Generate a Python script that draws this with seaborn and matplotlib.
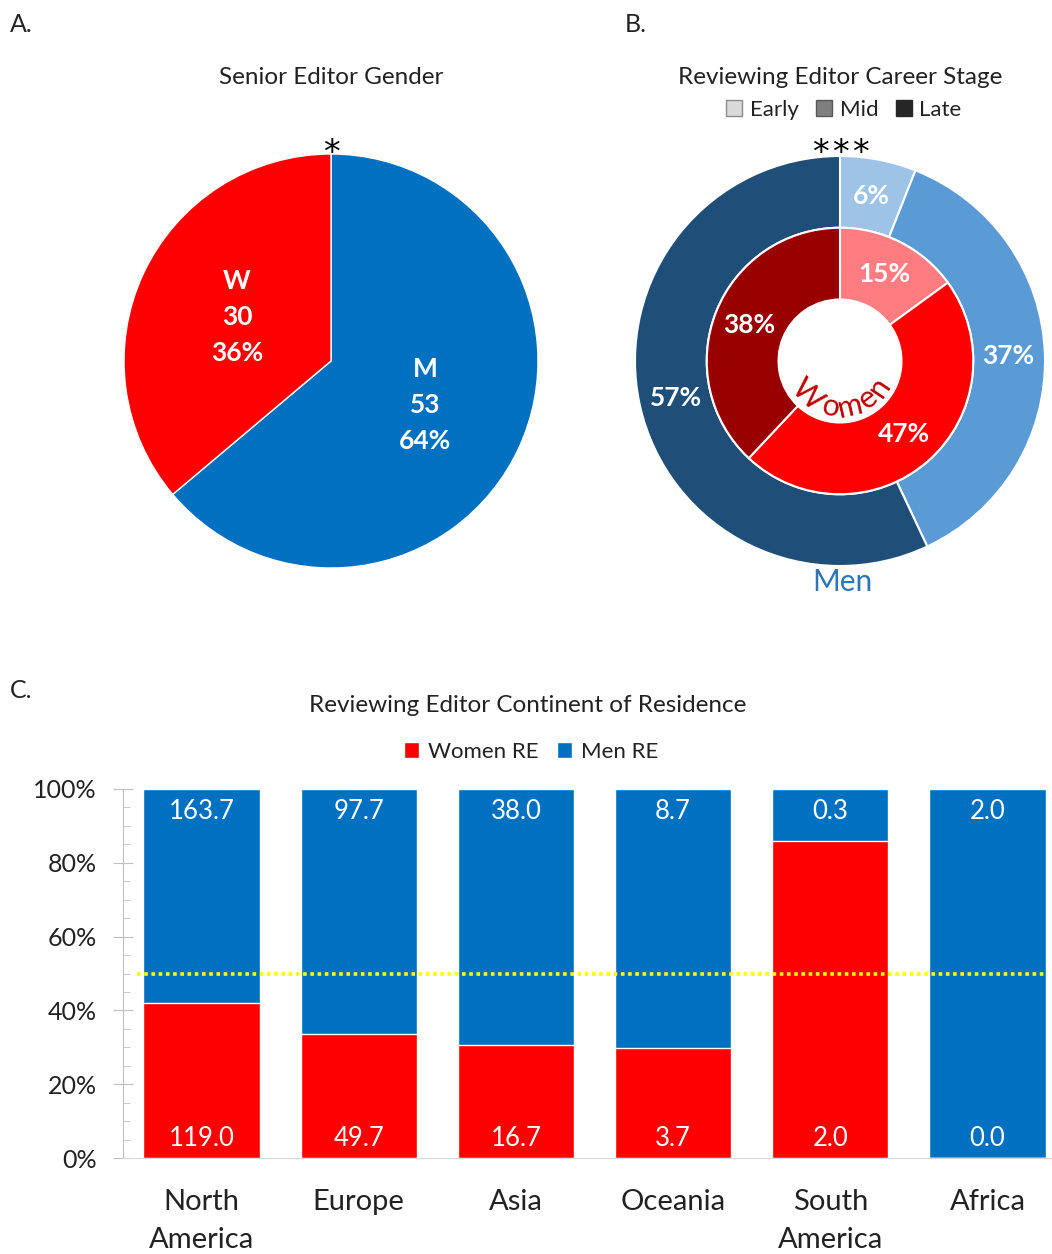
import numpy as np
import pandas as pd
import matplotlib
matplotlib.use('Agg')
import matplotlib.pyplot as plt
from matplotlib.patches import Patch
from matplotlib.ticker import MultipleLocator, PercentFormatter
import seaborn as sns

# A. senior editors
se_labels = ['M', 'W']
se_counts = [53, 30]

# B. reviewing editor career stage (percent of each gender)
stages = ['Early', 'Mid', 'Late']
men_stage_pct = [6, 37, 57]
women_stage_pct = [15, 47, 38]

# C. reviewing editor continent of residence
continents = ['North\nAmerica', 'Europe', 'Asia', 'Oceania', 'South\nAmerica', 'Africa']
women_re = [119.0, 49.7, 16.7, 3.7, 2.0, 0.0]
men_re = [163.7, 97.7, 38.0, 8.7, 0.33, 2.0]

BLUE = '#0070C0'
RED = '#FF0000'
men_shades = ['#9DC3E6', '#5B9BD5', '#1F4E79']
women_shades = ['#FF7C80', '#FF0000', '#990000']
stage_grays = ['#D9D9D9', '#7F7F7F', '#262626']
stage_edges = ['#8C8C8C', '#595959', '#262626']
TXT = '#222222'

sns.set_style('white')
plt.rcParams['font.family'] = ['Lato', 'DejaVu Sans']

W, H = 1052, 1254
fig = plt.figure(figsize=(W / 100, H / 100), dpi=100)


def pie_axes(cx, cy, r, lim=1.3):
    s = r * lim
    ax = fig.add_axes([(cx - s) / W, (H - cy - s) / H, 2 * s / W, 2 * s / H])
    return ax


def finish(ax, lim=1.3):
    ax.set_xlim(-lim, lim)
    ax.set_ylim(-lim, lim)
    ax.set_aspect('equal')
    ax.axis('off')


def stars(ax, n, y, step):
    # significance asterisks, drawn one by one so their spacing can be set
    for k in range(n):
        ax.text((k - (n - 1) / 2) * step, y, '*', ha='center', va='baseline',
                fontsize=24, color='black', family='DejaVu Sans')


# panel letters and titles
fig.text(10 / W, 1 - 25 / H, 'A.', fontsize=18, color=TXT, va='center')
fig.text(625 / W, 1 - 25 / H, 'B.', fontsize=18, color=TXT, va='center')
fig.text(10 / W, 1 - 690 / H, 'C.', fontsize=18, color=TXT, va='center')
fig.text(331 / W, 1 - 77 / H, 'Senior Editor Gender', fontsize=17.5, color=TXT,
         ha='center', va='center')
fig.text(840 / W, 1 - 78 / H, 'Reviewing Editor Career Stage', fontsize=17.5,
         color=TXT, ha='center', va='center')
fig.text(528 / W, 1 - 705 / H, 'Reviewing Editor Continent of Residence',
         fontsize=17.5, color=TXT, ha='center', va='center')

# ---- A: pie
axA = pie_axes(331, 361, 207)
tot = sum(se_counts)
lbls = ['%s\n%d\n%.0f%%' % (n, c, 100 * c / tot) for n, c in zip(se_labels, se_counts)]
wedges, texts = axA.pie(se_counts, labels=lbls, colors=[BLUE, RED], startangle=90,
                        counterclock=False, labeldistance=0.5,
                        wedgeprops=dict(edgecolor='white', linewidth=1),
                        textprops=dict(color='white', fontsize=19, fontweight='bold',
                                       linespacing=1.6))
for t in texts:
    t.set_ha('center')
    t.set_va('center')
stars(axA, 1, 0.955, 0.1)
finish(axA)

# ---- B: nested donut
axB = pie_axes(840, 361, 205)
tp = dict(color='white', fontsize=19, fontweight='bold')
axB.pie(men_stage_pct, radius=1, colors=men_shades, startangle=90, counterclock=False,
        autopct='%.0f%%', pctdistance=0.82, textprops=tp,
        wedgeprops=dict(width=0.35, edgecolor='white', linewidth=1.5))
axB.pie(women_stage_pct, radius=0.65, colors=women_shades, startangle=90,
        counterclock=False, autopct='%.0f%%', pctdistance=0.73, textprops=tp,
        wedgeprops=dict(width=0.35, edgecolor='white', linewidth=1.5))
stars(axB, 3, 0.965, 0.098)
axB.text(0.01, -1.08, 'Men', ha='center', va='center', fontsize=21.5, color='#2E75B6')
for ch, ang in zip('Women', [-134, -101, -77, -53, -34]):
    a = np.deg2rad(ang)
    axB.text(0.228 * np.cos(a), 0.228 * np.sin(a), ch, rotation=ang + 90,
             rotation_mode='anchor', ha='center', va='center', fontsize=22,
             color='#C00000')
finish(axB)

fig.legend(handles=[Patch(facecolor=c, edgecolor=e, label=s)
                    for c, e, s in zip(stage_grays, stage_edges, stages)],
           loc='center', bbox_to_anchor=(844 / W, 1 - 110 / H), ncol=3, frameon=False,
           fontsize=16, handlelength=0.7, handleheight=0.7, handletextpad=0.35,
           columnspacing=0.8, labelcolor=TXT)

# ---- C: stacked 100% bars
axC = fig.add_axes([123 / W, (H - 1158) / H, 943 / W, 369 / H])
df = pd.DataFrame({'continent': continents, 'women': women_re, 'men': men_re})
df['total'] = df['women'] + df['men']
df['women_share'] = df['women'] / df['total']
df['all_share'] = df['total'] / df['total']
sns.barplot(data=df, x='continent', y='all_share', color=BLUE, saturation=1,
            width=0.74, errorbar=None, ax=axC)
sns.barplot(data=df, x='continent', y='women_share', color=RED, saturation=1,
            width=0.74, errorbar=None, ax=axC)
for i, row in df.iterrows():
    axC.text(i, 0.94, '%.1f' % row['men'], ha='center', va='center', color='white',
             fontsize=18.5)
    axC.text(i, 0.054, '%.1f' % row['women'], ha='center', va='center', color='white',
             fontsize=18.5)
axC.axhline(0.5, xmin=0.015, xmax=0.978, color='#FFFF00', lw=2.6, ls=(0, (1, 1)),
            zorder=5)
axC.set_xlim(-0.5, 5.5)
axC.set_ylim(0, 1)
axC.yaxis.set_major_locator(MultipleLocator(0.2))
axC.yaxis.set_minor_locator(MultipleLocator(0.05))
axC.yaxis.set_major_formatter(PercentFormatter(1.0, decimals=0))
axC.set_xlabel('')
axC.set_ylabel('')
sns.despine(ax=axC)
axC.spines['left'].set_color('#BFBFBF')
axC.spines['bottom'].set_color('#D9D9D9')
axC.tick_params(axis='y', which='major', left=True, direction='inout', length=14,
                color='#BFBFBF', labelsize=18, labelcolor=TXT, pad=12)
axC.tick_params(axis='y', which='minor', left=True, direction='in', length=5,
                color='#BFBFBF')
axC.tick_params(axis='x', length=0, labelsize=21, labelcolor=TXT, pad=22)
for t in axC.get_xticklabels():
    t.set_linespacing(1.6)

fig.legend(handles=[Patch(facecolor=RED, label='Women RE'),
                    Patch(facecolor=BLUE, label='Men RE')],
           loc='center', bbox_to_anchor=(531 / W, 1 - 752 / H), ncol=2, frameon=False,
           fontsize=16, handlelength=0.7, handleheight=0.7, handletextpad=0.4,
           columnspacing=0.8, labelcolor=TXT)

fig.savefig('out.png', dpi=100)
